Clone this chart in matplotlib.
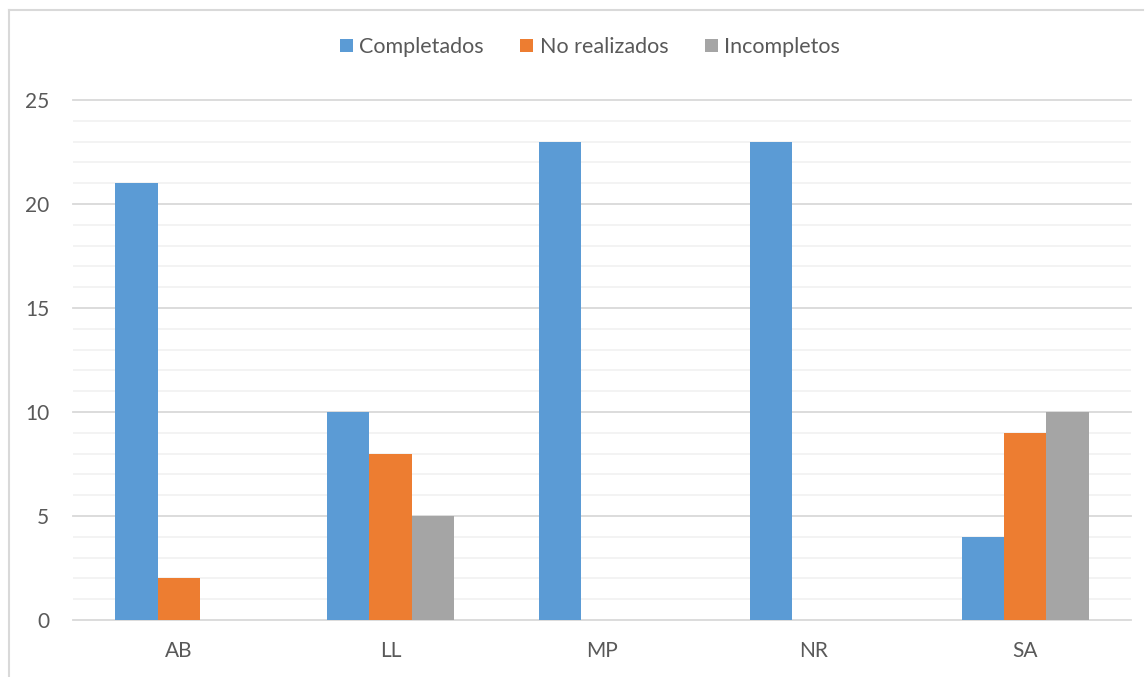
import numpy as np
import matplotlib.pyplot as plt
from matplotlib.lines import Line2D

# datos
categorias = ['AB', 'LL', 'MP', 'NR', 'SA']
completados = [21, 10, 23, 23, 4]
no_realizados = [2, 8, 0, 0, 9]
incompletos = [0, 5, 0, 0, 10]

plt.rcParams['font.family'] = ['Lato', 'DejaVu Sans']
gris_texto = '#595959'

fig = plt.figure(figsize=(11.45, 6.77), dpi=100)
ax = fig.add_axes([73 / 1145, 57 / 677, 1058 / 1145, 520 / 677])

x = np.arange(len(categorias))
ancho = 0.2
ax.bar(x - ancho, completados, ancho, color='#5B9BD5', label='Completados', zorder=3)
ax.bar(x, no_realizados, ancho, color='#ED7D31', label='No realizados', zorder=3)
ax.bar(x + ancho, incompletos, ancho, color='#A5A5A5', label='Incompletos', zorder=3)

ax.set_xlim(-0.5, len(categorias) - 0.5)
ax.set_ylim(0, 25)
ax.set_yticks(np.arange(0, 26, 5))
ax.set_yticks(np.arange(0, 26, 1), minor=True)
ax.set_xticks(x)
ax.set_xticklabels(categorias)

ax.grid(True, axis='y', which='major', color='#d9d9d9', linewidth=1.3, zorder=0)
ax.grid(True, axis='y', which='minor', color='#f2f2f2', linewidth=1.3, zorder=0)
for g in ax.get_ygridlines():
    g.set_clip_on(False)
for s in ax.spines.values():
    s.set_visible(False)
ax.tick_params(axis='both', which='both', length=0, labelsize=15, labelcolor=gris_texto)
ax.tick_params(axis='y', pad=17)
ax.tick_params(axis='x', pad=15)

# borde del area del grafico
fig.add_artist(Line2D([9 / 1145, 9 / 1145], [0, 1 - 10 / 677], color='#d9d9d9', lw=1.5))
fig.add_artist(Line2D([9 / 1145, 1143 / 1145], [1 - 10 / 677, 1 - 10 / 677], color='#d9d9d9', lw=1.5))

leg = fig.legend(loc='center', bbox_to_anchor=(590 / 1145, 1 - 47 / 677), ncol=3, frameon=False,
                 fontsize=15.5, handlelength=0.6, handleheight=0.6, handletextpad=0.3, columnspacing=1.7)
for t in leg.get_texts():
    t.set_color(gris_texto)

fig.savefig('out.png', dpi=100)
